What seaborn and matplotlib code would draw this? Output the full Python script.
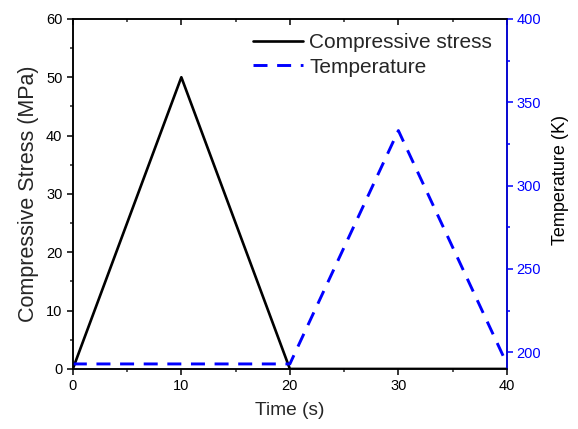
import pandas as pd
import seaborn as sns
import matplotlib.pyplot as plt
from matplotlib.ticker import MultipleLocator

# Data
time_stress = [0, 10, 20, 40]
stress_mpa = [0, 50, 0, 0]
time_temp = [0, 20, 30, 40]
temp_k = [193, 193, 333, 193]

df_stress = pd.DataFrame({'Time (s)': time_stress, 'Stress': stress_mpa})
df_temp = pd.DataFrame({'Time (s)': time_temp, 'Temperature': temp_k})

sns.set_theme(style='white')
plt.rcParams['font.family'] = ['Liberation Sans', 'DejaVu Sans']

blue = '#0000ff'

fig = plt.figure(figsize=(5.78, 4.29), dpi=100)
ax = fig.add_axes([0.126, 0.140, 0.751, 0.816])
ax2 = ax.twinx()

sns.lineplot(data=df_stress, x='Time (s)', y='Stress', ax=ax, color='black',
             linewidth=1.9, label='Compressive stress', legend=False)
sns.lineplot(data=df_temp, x='Time (s)', y='Temperature', ax=ax2, color=blue,
             linewidth=2.1, dashes=False, label='Temperature', legend=False)
ax2.lines[0].set_dashes((4.8, 3.3))

ax.set_xlim(0, 40)
ax.set_ylim(0, 60)
ax2.set_ylim(190, 400)

ax.xaxis.set_major_locator(MultipleLocator(10))
ax.xaxis.set_minor_locator(MultipleLocator(5))
ax.yaxis.set_major_locator(MultipleLocator(10))
ax.yaxis.set_minor_locator(MultipleLocator(5))
ax2.yaxis.set_major_locator(MultipleLocator(50))
ax2.yaxis.set_minor_locator(MultipleLocator(25))

ax.set_xlabel('Time (s)', fontsize=13.8, labelpad=6)
ax.set_ylabel('Compressive Stress (MPa)', fontsize=15.5, labelpad=5)
ax2.set_ylabel('Temperature (K)', fontsize=13, color='black', labelpad=8)
ax2.yaxis.label.set_y(0.54)

for a in (ax, ax2):
    for s in a.spines.values():
        s.set_linewidth(1.1)
        s.set_color('black')
ax2.spines['right'].set_color(blue)

ax.tick_params(axis='both', which='major', direction='out', length=4.5, width=1.1,
               labelsize=10.5, colors='black', bottom=True, left=True, pad=3)
ax.tick_params(axis='both', which='minor', direction='out', length=2.5, width=1.1,
               bottom=True, left=True)
ax.tick_params(axis='x', which='both', top=True, labeltop=False)
ax2.tick_params(axis='y', which='major', direction='out', length=4, width=1.1,
                labelsize=10.5, colors=blue, right=True, pad=3)
ax2.tick_params(axis='y', which='minor', direction='out', length=2.5, width=1.1,
                colors=blue, right=True)
# top axis ticks point inward
for t in ax.xaxis.get_major_ticks() + ax.xaxis.get_minor_ticks():
    t.tick2line.set_marker(3)

handles = ax.get_lines()[:1] + ax2.get_lines()[:1]
ax.legend(handles, ['Compressive stress', 'Temperature'], loc='upper right',
          frameon=False, fontsize=15, handlelength=2.4, handletextpad=0.3,
          borderaxespad=0.3, labelspacing=0.25)

fig.savefig('out.png', dpi=100)
